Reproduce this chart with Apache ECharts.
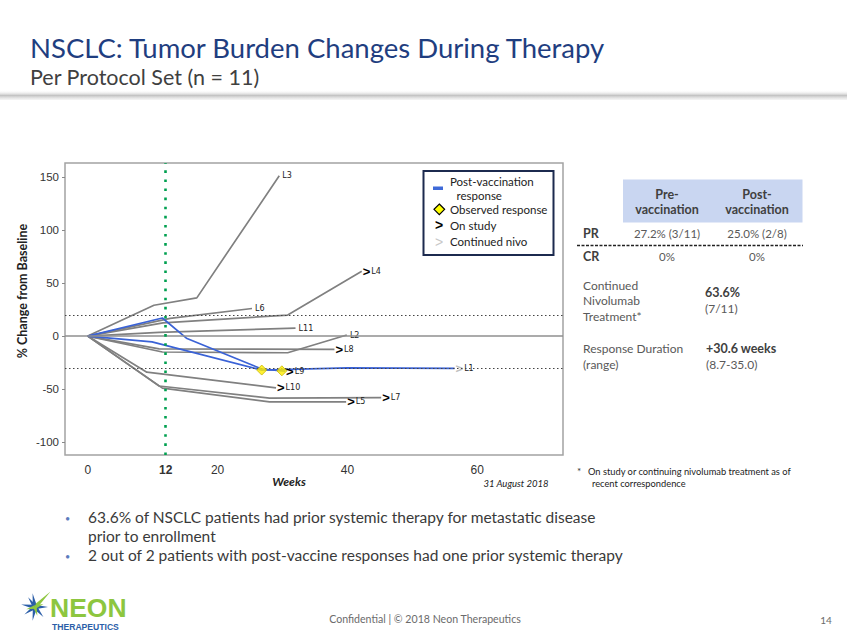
<!DOCTYPE html>
<html><head><meta charset="utf-8">
<script src="https://cdn.jsdelivr.net/npm/echarts@6/dist/echarts.min.js"></script>
<style>html,body{margin:0;padding:0;background:#fff}#c{width:847px;height:635px}</style>
</head><body><div id="c"></div>
<script>
// ---- data ----
const xTickLabels = [0, 12, 20, 40, 60];
const yTickLabels = [-100, -50, 0, 50, 100, 150];
const patientNames = ['L1','L2','L3','L4','L5','L6','L7','L8','L9','L10','L11'];
const L1  = [[0,0],[9.9,-5.4],[26.8,-32],[40,-30],[56.5,-30.5]];
const L2  = [[0,0],[11.5,-15],[30.8,-15.7],[39.9,1]];
const L3  = [[0,0],[10.2,29],[16.8,36],[29.5,151]];
const L4  = [[0,0],[11.6,12.5],[30.8,19.8],[42.2,61]];
const L5  = [[0,0],[11.5,-49],[28,-62],[39.8,-62]];
const L6  = [[0,0],[12.7,16.7],[25.3,26]];
const L7  = [[0,0],[11,-47],[28,-58.5],[45.2,-58]];
const L8  = [[0,0],[11,-12],[38,-12.5]];
const L9  = [[0,0],[11.5,17],[15.2,-2],[26.8,-31],[29.9,-32.7],[30.4,-33]];
const L10 = [[0,0],[9.1,-34],[29,-48.8]];
const L11 = [[0,0],[11,3.5],[32,7.5]];
const patientData = {L1,L2,L3,L4,L5,L6,L7,L8,L9,L10,L11};
const postVaccinationResponse = ['L1','L9'];
const onStudy = ['L4','L5','L7','L8','L9','L10'];
const continuedNivo = ['L1'];
const observedResponses = [[26.8,-32],[29.9,-32.7]];
const thresholdLines = [20, -30];
const zeroLine = 0;
const vaccinationWeek = 12;

// ---- chart ----
const F = 'Lato, "Open sans", sans-serif';
const TF = '"Liberation Sans", Arial, sans-serif';
const chart = echarts.init(document.getElementById('c'), null, {renderer: 'svg'});

function endFmt(name) {
  if (onStudy.includes(name)) return '{a|>}{l|' + name + '}';
  if (continuedNivo.includes(name)) return '{g|>}{l|' + name + '}';
  return '{s| }{l|' + name + '}';
}
const rich = {
  a: {fontSize: 13, fontWeight: 'bold', color: '#000', fontFamily: TF},
  g: {fontSize: 13, fontWeight: 'bold', color: '#c0c0c0', fontFamily: TF},
  s: {fontSize: 4},
  l: {fontSize: 8, color: '#222', fontFamily: '"DejaVu Sans", sans-serif', padding: [0,0,0,1]}
};

const gray = patientNames.filter(n => !postVaccinationResponse.includes(n));
const blue = patientNames.filter(n => postVaccinationResponse.includes(n));
const lineSeries = gray.concat(blue).map(n => ({
  type: 'line', name: n, data: patientData[n], symbol: 'none',
  lineStyle: {color: postVaccinationResponse.includes(n) ? '#3a62d6' : '#808080', width: 1.7},
  z: postVaccinationResponse.includes(n) ? 4 : 3,
  endLabel: {show: true, formatter: () => endFmt(n), distance: 1, rich: rich},
  animation: false, silent: true
}));

const refSeries = {
  type: 'line', data: [[0,0]], symbol: 'none', lineStyle: {opacity: 0}, z: 2, silent: true, animation: false,
  markLine: {
    symbol: ['none','none'], silent: true, animation: false, label: {show: false},
    data: [
      ...thresholdLines.map(v => ({yAxis: v, lineStyle: {color: '#444', width: 1, type: [1.5, 2.5]}})),
      {yAxis: zeroLine, lineStyle: {color: '#8f8f8f', width: 1.5, type: 'solid'}},
      {xAxis: vaccinationWeek, lineStyle: {color: '#00a050', width: 2.6, type: [2.6, 6.5]}}
    ]
  }
};

const diamondSeries = {
  type: 'scatter', data: observedResponses, symbol: 'diamond', symbolSize: 10, z: 6,
  itemStyle: {color: '#ffee00', borderColor: '#c9b800', borderWidth: 1}, animation: false, silent: true
};

function t(text, x, y, o) {
  return {type: 'text', x: x, y: y, silent: true, style: Object.assign({text: text, fontFamily: F, fontSize: 12, fill: '#595959', textVerticalAlign: 'middle', textAlign: 'left'}, o || {})};
}
function spike(cx, cy, ang, len, w, color) {
  const a = ang * Math.PI / 180;
  const px = -Math.sin(a) * w, py = Math.cos(a) * w;
  return {type: 'polygon', silent: true, shape: {points: [[cx + px, cy + py], [cx + Math.cos(a) * len, cy + Math.sin(a) * len], [cx - px, cy - py]]}, style: {fill: color}};
}

const graphics = [
  // header shadow band
  {type: 'rect', silent: true, shape: {x: 0, y: 90, width: 847, height: 10},
   style: {fill: new echarts.graphic.LinearGradient(0, 0, 0, 1, [{offset: 0, color: 'rgba(255,255,255,0)'}, {offset: 0.55, color: '#c4c4c4'}, {offset: 1, color: 'rgba(240,240,240,0.6)'}])}},
  t('NSCLC: Tumor Burden Changes During Therapy', 30, 47, {fontSize: 27.5, fill: '#1f3e80'}),
  t('Per Protocol Set (n = 11)', 30, 77, {fontSize: 21.5, fill: '#404040'}),
  // axis titles
  {type: 'text', x: 22, y: 291, rotation: Math.PI / 2, silent: true,
   style: {text: '% Change from Baseline', fontFamily: F, fontSize: 12.5, fontWeight: 'bold', fill: '#222', textAlign: 'center', textVerticalAlign: 'middle'}},
  t('Weeks', 289, 481, {fontSize: 12, fontWeight: 'bold', fontStyle: 'italic', fill: '#222', textAlign: 'center'}),
  t('31 August 2018', 516, 483, {fontSize: 9.5, fontStyle: 'italic', fill: '#222', textAlign: 'center'}),
  // legend
  {type: 'rect', silent: true, z: 10, shape: {x: 423.5, y: 171, width: 130, height: 84}, style: {fill: '#fff', stroke: '#1c2a4f', lineWidth: 2}},
  {type: 'rect', silent: true, z: 11, shape: {x: 433, y: 186.5, width: 10, height: 3.5}, style: {fill: '#3f6ad8'}},
  {type: 'polygon', silent: true, z: 11, shape: {points: [[439.3, 204], [444.6, 209.3], [439.3, 214.6], [434, 209.3]]}, style: {fill: '#ffff00', stroke: '#000', lineWidth: 1.2}},
  Object.assign(t('>', 435, 225, {fontSize: 14, fontWeight: 'bold', fill: '#000', fontFamily: TF}), {z: 11}),
  Object.assign(t('>', 435, 242, {fontSize: 14, fill: '#c8c8c8', fontFamily: TF}), {z: 11}),
  Object.assign(t('Post-vaccination', 450, 181, {fontSize: 11.5, fill: '#222'}), {z: 11}),
  Object.assign(t('response', 456.5, 195, {fontSize: 11.5, fill: '#222'}), {z: 11}),
  Object.assign(t('Observed response', 450, 209.5, {fontSize: 11.5, fill: '#222'}), {z: 11}),
  Object.assign(t('On study', 450, 225, {fontSize: 11.5, fill: '#222'}), {z: 11}),
  Object.assign(t('Continued nivo', 450, 241.5, {fontSize: 11.5, fill: '#222'}), {z: 11}),
  // table
  {type: 'rect', silent: true, shape: {x: 623, y: 179.5, width: 179.5, height: 43}, style: {fill: '#c9d6f1'}},
  t('Pre-', 667, 194, {fontWeight: 'bold', fontSize: 12.5, textAlign: 'center', fill: '#404040'}),
  t('vaccination', 667, 209.5, {fontWeight: 'bold', fontSize: 12.5, textAlign: 'center', fill: '#404040'}),
  t('Post-', 757, 194, {fontWeight: 'bold', fontSize: 12.5, textAlign: 'center', fill: '#404040'}),
  t('vaccination', 757, 209.5, {fontWeight: 'bold', fontSize: 12.5, textAlign: 'center', fill: '#404040'}),
  t('PR', 583, 233.5, {fontWeight: 'bold', fontSize: 12.5, fill: '#404040'}),
  t('27.2% (3/11)', 667, 233.5, {textAlign: 'center', fontSize: 11.5}),
  t('25.0% (2/8)', 757, 233.5, {textAlign: 'center', fontSize: 11.5}),
  {type: 'line', silent: true, shape: {x1: 577, y1: 245.5, x2: 803, y2: 245.5}, style: {stroke: '#222', lineWidth: 1.5, lineDash: [3, 1.5]}},
  t('CR', 583, 256.5, {fontWeight: 'bold', fontSize: 12.5, fill: '#404040'}),
  t('0%', 667, 256.5, {textAlign: 'center', fontSize: 11.5}),
  t('0%', 757, 256.5, {textAlign: 'center', fontSize: 11.5}),
  t('Continued', 583, 285),
  t('Nivolumab', 583, 300.5),
  t('Treatment*', 583, 316),
  t('63.6%', 705, 292.5, {fontWeight: 'bold', fontSize: 12.5, fill: '#404040'}),
  t('(7/11)', 705, 308.5),
  t('Response Duration', 583, 348.5),
  t('(range)', 583, 364),
  t('+30.6 weeks', 706, 348.5, {fontWeight: 'bold', fontSize: 12.5, fill: '#404040'}),
  t('(8.7-35.0)', 706, 364),
  t('*', 577, 471, {fontSize: 10, fill: '#333'}),
  t('On study or continuing nivolumab treatment as of', 588, 471, {fontSize: 9.3, fill: '#222'}),
  t('recent correspondence', 592, 483.5, {fontSize: 9.3, fill: '#222'}),
  // bullets
  t('•', 65, 518, {fontSize: 9, fill: '#5b7bbd'}),
  t('63.6% of NSCLC patients had prior systemic therapy for metastatic disease', 88, 517, {fontSize: 15.5, fill: '#3a3a3a'}),
  t('prior to enrollment', 88, 536, {fontSize: 15.5, fill: '#3a3a3a'}),
  t('•', 65, 556, {fontSize: 9, fill: '#5b7bbd'}),
  t('2 out of 2 patients with post-vaccine responses had one prior systemic therapy', 88, 555, {fontSize: 15.5, fill: '#3a3a3a'}),
  // footer
  t('Confidential | © 2018 Neon Therapeutics', 425, 619, {fontSize: 10.6, fill: '#6b6b6b', textAlign: 'center'}),
  t('14', 826, 620, {fontSize: 10, fill: '#6b6b6b', textAlign: 'center'}),
  // logo
  spike(35, 607, -100, 14, 2.2, '#2b5ea8'), spike(35, 607, -45, 22, 2.2, '#8dc63f'),
  spike(35, 607, 0, 13, 2.2, '#2b5ea8'), spike(35, 607, 50, 13, 2.2, '#2b5ea8'),
  spike(35, 607, 100, 14, 2.2, '#2b5ea8'), spike(35, 607, 145, 13, 2.2, '#2b5ea8'),
  spike(35, 607, 190, 14, 2.2, '#2b5ea8'), spike(35, 607, 235, 12, 2.2, '#2b5ea8'),
  spike(35, 607, -20, 9, 1.8, '#8dc63f'), spike(35, 607, 75, 9, 1.8, '#8dc63f'), spike(35, 607, 165, 9, 1.8, '#8dc63f'),
  t('NEON', 50, 608, {fontSize: 26.5, fontWeight: 'bold', fill: '#8dc63f', fontFamily: TF}),
  t('THERAPEUTICS', 52, 626.5, {fontSize: 8.6, fontWeight: 'bold', fill: '#2b5ea8', fontFamily: TF})
];

chart.setOption({
  animation: false,
  backgroundColor: '#fff',
  grid: {left: 65, top: 163, width: 498, height: 292, show: true, borderColor: '#a3a3a3', borderWidth: 1.5, backgroundColor: 'transparent'},
  xAxis: {
    type: 'value', min: -3.5, max: 73.2,
    axisLine: {show: false, onZero: false}, splitLine: {show: false},
    axisTick: {show: false},
    axisLabel: {
      customValues: xTickLabels, margin: 9, color: '#333', fontFamily: TF, fontSize: 12,
      formatter: v => v === vaccinationWeek ? '{b|' + v + '}' : '{n|' + v + '}',
      rich: {b: {fontWeight: 'bold', fontSize: 12, color: '#333', fontFamily: TF}, n: {fontSize: 12, color: '#333', fontFamily: TF}}
    }
  },
  yAxis: {
    type: 'value', min: -112, max: 163,
    axisLine: {show: false, onZero: false}, splitLine: {show: false},
    axisTick: {show: true, customValues: yTickLabels, length: 3, lineStyle: {color: '#888'}},
    axisLabel: {customValues: yTickLabels, margin: 6, color: '#333', fontFamily: TF, fontSize: 11.5}
  },
  series: [refSeries, ...lineSeries, diamondSeries],
  graphic: graphics
});
</script>
</body></html>
